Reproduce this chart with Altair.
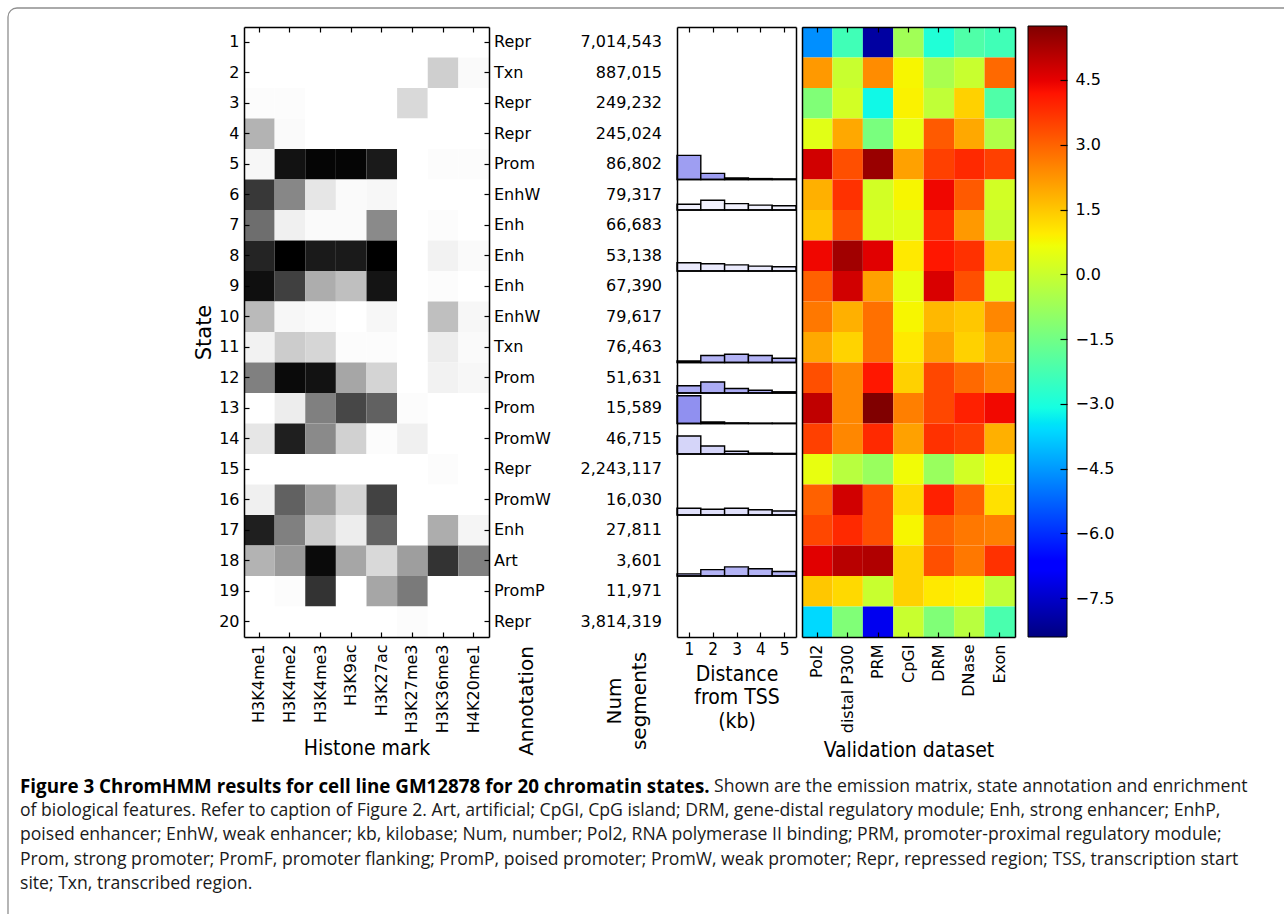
import altair as alt
import numpy as np
import pandas as pd

# ---------------- data ----------------
states = list(range(1, 21))
annotations = ["Repr", "Txn", "Repr", "Repr", "Prom", "EnhW", "Enh", "Enh", "Enh", "EnhW",
               "Txn", "Prom", "Prom", "PromW", "Repr", "PromW", "Enh", "Art", "PromP", "Repr"]
num_segments = [7014543, 887015, 249232, 245024, 86802, 79317, 66683, 53138, 67390, 79617,
                76463, 51631, 15589, 46715, 2243117, 16030, 27811, 3601, 11971, 3814319]
histone_marks = ["H3K4me1", "H3K4me2", "H3K4me3", "H3K9ac", "H3K27ac", "H3K27me3", "H3K36me3", "H4K20me1"]
emission = [
    [0.00, 0.00, 0.00, 0.00, 0.00, 0.00, 0.00, 0.00],
    [0.00, 0.00, 0.00, 0.00, 0.00, 0.00, 0.19, 0.02],
    [0.01, 0.01, 0.00, 0.00, 0.00, 0.15, 0.00, 0.00],
    [0.30, 0.02, 0.00, 0.00, 0.00, 0.00, 0.00, 0.00],
    [0.03, 0.93, 0.98, 0.98, 0.90, 0.00, 0.01, 0.01],
    [0.78, 0.47, 0.10, 0.02, 0.03, 0.00, 0.00, 0.00],
    [0.57, 0.06, 0.02, 0.02, 0.46, 0.00, 0.01, 0.00],
    [0.86, 1.00, 0.90, 0.90, 1.00, 0.00, 0.05, 0.02],
    [0.94, 0.75, 0.32, 0.25, 0.92, 0.00, 0.01, 0.00],
    [0.27, 0.03, 0.02, 0.00, 0.03, 0.00, 0.25, 0.03],
    [0.05, 0.20, 0.16, 0.01, 0.01, 0.00, 0.07, 0.02],
    [0.50, 0.96, 0.93, 0.35, 0.17, 0.00, 0.05, 0.03],
    [0.00, 0.07, 0.50, 0.72, 0.62, 0.01, 0.00, 0.00],
    [0.10, 0.88, 0.46, 0.18, 0.01, 0.06, 0.00, 0.00],
    [0.00, 0.00, 0.00, 0.00, 0.00, 0.00, 0.01, 0.00],
    [0.06, 0.62, 0.38, 0.17, 0.74, 0.00, 0.00, 0.00],
    [0.88, 0.50, 0.20, 0.07, 0.61, 0.00, 0.32, 0.04],
    [0.30, 0.40, 0.96, 0.35, 0.15, 0.38, 0.80, 0.50],
    [0.00, 0.01, 0.80, 0.00, 0.35, 0.52, 0.00, 0.00],
    [0.00, 0.00, 0.00, 0.00, 0.00, 0.01, 0.00, 0.00],
]
tss_bins = [1, 2, 3, 4, 5]
tss_states = [5, 6, 8, 11, 12, 13, 14, 16, 18]
tss_fraction = [
    [0.79, 0.20, 0.05, 0.03, 0.02],
    [0.19, 0.32, 0.21, 0.16, 0.14],
    [0.27, 0.24, 0.20, 0.16, 0.14],
    [0.05, 0.23, 0.27, 0.23, 0.14],
    [0.24, 0.36, 0.15, 0.09, 0.04],
    [0.91, 0.05, 0.02, 0.01, 0.01],
    [0.59, 0.26, 0.09, 0.03, 0.02],
    [0.22, 0.19, 0.22, 0.17, 0.13],
    [0.07, 0.21, 0.30, 0.24, 0.15],
]
tss_intensity = [0.70, 0.10, 0.15, 0.55, 0.60, 0.80, 0.30, 0.22, 0.55]
datasets = ["Pol2", "distal P300", "PRM", "CpGI", "DRM", "DNase", "Exon"]
enrichment = [
    [-4.65, -2.35, -7.99, -0.69, -2.90, -2.09, -2.35],
    [2.19, -0.02, 2.38, 0.80, -0.55, -0.02, 2.90],
    [-1.25, 0.15, -3.18, 0.85, -0.15, 1.35, -2.09],
    [0.41, 1.96, -1.38, 0.54, 3.13, 1.96, -0.42],
    [4.76, 3.29, 5.44, 2.07, 3.52, 3.87, 3.52],
    [1.84, 3.75, 0.15, 0.80, 4.38, 3.13, 0.15],
    [1.53, 3.29, 0.28, 0.41, 3.87, 2.19, -0.02],
    [4.38, 5.34, 4.56, 0.99, 4.13, 3.75, 1.60],
    [3.02, 4.76, 2.07, 0.54, 4.66, 3.29, 0.28],
    [2.68, 1.84, 2.80, 0.80, 1.72, 1.49, 2.45],
    [1.96, 1.31, 2.80, 0.99, 2.07, 1.35, 1.96],
    [3.29, 2.45, 4.13, 1.35, 3.41, 2.90, 2.45],
    [4.97, 2.45, 5.75, 2.57, 3.41, 4.00, 4.35],
    [3.52, 2.45, 3.87, 2.07, 3.75, 3.52, 1.84],
    [0.54, -0.29, -0.82, 0.70, -0.82, 0.15, 0.80],
    [3.02, 4.76, 3.29, 1.22, 4.00, 3.02, 1.11],
    [3.41, 3.87, 3.29, 0.80, 3.02, 2.68, 2.57],
    [4.56, 5.07, 5.16, 1.35, 3.29, 2.68, 3.75],
    [1.49, 1.22, -0.02, 1.35, 0.99, 0.85, -0.15],
    [-3.62, -1.25, -7.03, -0.02, -1.25, -0.29, -2.20],
]
cbar_ticks = [-7.5, -6.0, -4.5, -3.0, -1.5, 0.0, 1.5, 3.0, 4.5]
enr_min, enr_max = -8.4, 5.75

caption_bold = "Figure 3 ChromHMM results for cell line GM12878 for 20 chromatin states."
caption_first = "Shown are the emission matrix, state annotation and enrichment"
caption_lines = [
    "of biological features. Refer to caption of Figure 2. Art, artificial; CpGI, CpG island; DRM, gene-distal regulatory module; Enh, strong enhancer; EnhP,",
    "poised enhancer; EnhW, weak enhancer; kb, kilobase; Num, number; Pol2, RNA polymerase II binding; PRM, promoter-proximal regulatory module;",
    "Prom, strong promoter; PromF, promoter flanking; PromP, poised promoter; PromW, weak promoter; Repr, repressed region; TSS, transcription start",
    "site; Txn, transcribed region.",
]

# ---------------- layout / style ----------------
W, H = 1284, 914
HX = [244, 489]
TX = [677, 796]
VX = [802, 1015]
CX = [1028, 1067]
PY = [27, 637]
CY = [26, 637]
FONT = "DejaVu Sans"
CFONT = "DejaVu Sans Condensed"
CAPFONT = "Open Sans"
CAPSIZE = 17.6

# jet colormap stops
_t = np.array([0, 0.11, 0.125, 0.34, 0.35, 0.375, 0.64, 0.65, 0.66, 0.89, 0.91, 1.0])
_r = np.interp(_t, [0, 0.35, 0.66, 0.89, 1], [0, 0, 1, 1, 0.5])
_g = np.interp(_t, [0, 0.125, 0.375, 0.64, 0.91, 1], [0, 0, 1, 1, 0, 0])
_b = np.interp(_t, [0, 0.11, 0.34, 0.65, 1], [0.5, 1, 1, 0, 0])
jet_colors = ["#%02x%02x%02x" % (int(round(r * 255)), int(round(g * 255)), int(round(b * 255)))
              for r, g, b in zip(_r, _g, _b)]
jet_domain = [enr_min + t * (enr_max - enr_min) for t in _t]


def ax(orient, pos, **kw):
    offsets = {"left": -pos, "right": pos - W, "top": -pos, "bottom": pos - H}
    base = dict(orient=orient, offset=offsets[orient], grid=False, domain=False, ticks=False,
                labels=False, title=None, labelFlush=False, domainColor="black", domainWidth=1.5,
                tickColor="black", tickWidth=1.2, tickSize=5, labelColor="black", zindex=1,
                labelFont=FONT, labelFontSize=16, titleColor="black", titleFontWeight="normal")
    base.update(kw)
    return alt.Axis(**base)


def frame(orient, pos):
    return ax(orient, pos, domain=True)


def inticks(orient, pos, size=5, **kw):
    return ax(orient, pos, ticks=True, tickSize=size, **kw)


band = dict(paddingInner=0, paddingOuter=0)


def y_state(axis):
    return alt.Y("state:O", sort="ascending", scale=alt.Scale(range=PY, **band), axis=axis)


def x_mark(axis):
    return alt.X("mark:N", sort=histone_marks, scale=alt.Scale(range=HX, **band), axis=axis)


def x_set(axis):
    return alt.X("dataset:N", sort=datasets, scale=alt.Scale(range=VX, **band), axis=axis)


tss_x_dom = [min(tss_bins) - 0.5, max(tss_bins) + 0.5]


def x_tss(field, axis):
    return alt.X(field, scale=alt.Scale(domain=tss_x_dom, range=TX, nice=False, zero=False), axis=axis)


def y_tss(field, axis):
    return alt.Y(field, scale=alt.Scale(domain=[0, len(states)], range=PY, nice=False, zero=False), axis=axis)


# ---------------- tables ----------------
em_df = pd.DataFrame([{"state": s, "mark": m, "value": emission[i][j]}
                      for i, s in enumerate(states) for j, m in enumerate(histone_marks)])
ann_df = pd.DataFrame({"state": states, "annotation": annotations, "num": num_segments})
tss_df = pd.DataFrame([{"state": s, "bin": b, "frac": f, "intensity": it}
                       for s, fr, it in zip(tss_states, tss_fraction, tss_intensity)
                       for b, f in zip(tss_bins, fr)])
base_df = pd.DataFrame({"state": tss_states})
enr_df = pd.DataFrame([{"state": s, "dataset": d, "enr": enrichment[i][j]}
                       for i, s in enumerate(states) for j, d in enumerate(datasets)])
cbar_df = pd.DataFrame({"lo": [enr_min], "hi": [enr_max]})
one = pd.DataFrame({"k": [0]})

layers = []

# figure border
layers.append(alt.Chart(one).mark_rect(fill="#ffffff", fillOpacity=0, stroke="#8f8f8f", strokeWidth=1.3,
                                       cornerRadius=9)
              .encode(x=alt.value(8), y=alt.value(8), x2=alt.value(W + 30), y2=alt.value(H + 30)))

# ---- emission heatmap ----
layers.append(alt.Chart(em_df).mark_rect().encode(
    x=x_mark(ax("bottom", PY[1], domain=True, labels=True, labelAngle=270, labelAlign="right",
                labelBaseline="middle", labelPadding=7, title="Histone mark", titleFont=CFONT,
                titleFontSize=21, titleY=111, titleBaseline="middle")),
    y=y_state(ax("left", HX[0], domain=True, labels=True, labelPadding=5, title="State",
                 titleFont=FONT, titleFontSize=21, titleAngle=270, titleX=-40, titleBaseline="middle")),
    color=alt.Color("value:Q", scale=alt.Scale(domain=[0, 1], range=["#ffffff", "#000000"], interpolate="rgb"),
                    legend=None),
))
layers.append(alt.Chart(em_df).mark_rect(opacity=0).encode(
    x=x_mark(frame("top", PY[0])), y=y_state(frame("right", HX[1]))))
layers.append(alt.Chart(em_df).mark_rect(opacity=0).encode(
    x=x_mark(inticks("bottom", PY[0])), y=y_state(inticks("right", HX[0]))))
layers.append(alt.Chart(em_df).mark_rect(opacity=0).encode(
    x=x_mark(inticks("top", PY[1])), y=y_state(inticks("left", HX[1]))))

# annotation + number of segments
layers.append(alt.Chart(ann_df).mark_text(align="left", baseline="middle", font=FONT, fontSize=16, color="black")
              .encode(x=alt.value(494), y=y_state(None), text="annotation:N"))
layers.append(alt.Chart(ann_df).mark_text(align="right", baseline="middle", font=FONT, fontSize=16, color="black")
              .encode(x=alt.value(662), y=y_state(None), text=alt.Text("num:Q", format=",")))
layers.append(alt.Chart(one).mark_text(text="Annotation", angle=270, align="center", baseline="middle",
                                       font=FONT, fontSize=20, color="black")
              .encode(x=alt.value(527), y=alt.value(701)))
layers.append(alt.Chart(one).mark_text(text=["Num", "segments"], angle=270, align="center", baseline="middle",
                                       font=FONT, fontSize=20, lineHeight=25, color="black")
              .encode(x=alt.value(615), y=alt.value(701)))

# ---- distance from TSS histograms ----
tss_base = alt.Chart(tss_df).transform_calculate(
    x0="datum.bin - 0.5", x1="datum.bin + 0.5", y0="datum.state", y1="datum.state - datum.frac")
layers.append(tss_base.mark_rect(stroke="black", strokeWidth=1.4).encode(
    x=x_tss("x0:Q", ax("bottom", PY[1], domain=True, labels=True, values=tss_bins, labelFont=CFONT,
                       labelFontSize=17, labelPadding=4, title=["Distance", "from TSS", "(kb)"],
                       titleFont=CFONT, titleFontSize=21, titleLineHeight=23.5, titleY=43,
                       titleBaseline="alphabetic")),
    x2="x1:Q",
    y=y_tss("y0:Q", frame("left", TX[0])),
    y2="y1:Q",
    color=alt.Color("intensity:Q", scale=alt.Scale(domain=[0, 1], range=["#ffffff", "#7474ec"], interpolate="rgb"),
                    legend=None),
))
rules = alt.Chart(base_df).transform_calculate(xa=str(tss_x_dom[0]), xb=str(tss_x_dom[1]))
layers.append(rules.mark_rule(color="black", strokeWidth=1.5).encode(
    x=x_tss("xa:Q", frame("top", PY[0])), x2="xb:Q", y=y_tss("state:Q", frame("right", TX[1]))))
layers.append(rules.mark_rule(opacity=0).encode(
    x=x_tss("xa:Q", inticks("bottom", PY[0], values=tss_bins)), x2="xb:Q", y=y_tss("state:Q", None)))
layers.append(rules.mark_rule(opacity=0).encode(
    x=x_tss("xa:Q", inticks("top", PY[1], values=tss_bins)), x2="xb:Q", y=y_tss("state:Q", None)))

# ---- validation enrichment heatmap ----
layers.append(alt.Chart(enr_df).mark_rect().encode(
    x=x_set(ax("bottom", PY[1], domain=True, labels=True, labelAngle=270, labelAlign="right",
               labelBaseline="middle", labelPadding=7, title="Validation dataset", titleFont=CFONT,
               titleFontSize=21, titleY=113, titleBaseline="middle")),
    y=y_state(frame("left", VX[0])),
    color=alt.Color("enr:Q", scale=alt.Scale(domain=jet_domain, range=jet_colors, interpolate="rgb", clamp=True),
                    legend=None),
))
layers.append(alt.Chart(enr_df).mark_rect(opacity=0).encode(
    x=x_set(frame("top", PY[0])), y=y_state(frame("right", VX[1]))))
layers.append(alt.Chart(enr_df).mark_rect(opacity=0).encode(
    x=x_set(inticks("bottom", PY[0])), y=y_state(None)))
layers.append(alt.Chart(enr_df).mark_rect(opacity=0).encode(
    x=x_set(inticks("top", PY[1])), y=y_state(None)))

# ---- colorbar ----
grad = alt.Gradient(gradient="linear", x1=0, x2=0, y1=1, y2=0,
                    stops=[alt.GradientStop(offset=float(t), color=c) for t, c in zip(_t, jet_colors)])
cb_scale = alt.Scale(domain=[enr_min, enr_max], range=[CY[1], CY[0]], nice=False, zero=False)
layers.append(alt.Chart(cbar_df).mark_rect(fill=grad, stroke="black", strokeWidth=1).encode(
    x=alt.value(CX[0]), x2=alt.value(CX[1]),
    y=alt.Y("lo:Q", scale=cb_scale, axis=ax("right", CX[1], labels=True, values=cbar_ticks, format=".1f",
                                            labelPadding=8)),
    y2="hi:Q"))
layers.append(alt.Chart(cbar_df).mark_rect(opacity=0).encode(
    x=alt.value(CX[0]), x2=alt.value(CX[1]),
    y=alt.Y("lo:Q", scale=cb_scale, axis=inticks("left", CX[1], size=7, values=cbar_ticks)),
    y2="hi:Q"))

# ---- caption ----
layers.append(alt.Chart(one).mark_text(text=caption_bold, align="left", baseline="middle", font=CAPFONT,
                                       fontSize=18.8, fontWeight="bold", color="black")
              .encode(x=alt.value(20), y=alt.value(787)))
layers.append(alt.Chart(one).mark_text(text=caption_first, align="left", baseline="middle", font=CAPFONT,
                                       fontSize=CAPSIZE, color="#1a1a1a")
              .encode(x=alt.value(714), y=alt.value(787)))
cap_df = pd.DataFrame({"line": list(range(len(caption_lines))), "text": caption_lines})
layers.append(alt.Chart(cap_df).mark_text(align="left", baseline="middle", font=CAPFONT, fontSize=CAPSIZE,
                                          color="#1a1a1a")
              .encode(x=alt.value(20),
                      y=alt.Y("line:O", sort="ascending", scale=alt.Scale(range=[799, 896], **band), axis=None),
                      text="text:N"))

chart = alt.layer(*layers).resolve_scale(x="independent", y="independent", color="independent") \
    .resolve_axis(x="independent", y="independent") \
    .properties(width=W, height=H, autosize=alt.AutoSizeParams(type="none"), padding=0) \
    .configure_view(stroke="transparent") \
    .configure_axis(grid=False)

chart.save("out.html", embed_options={"renderer": "svg", "actions": False})
